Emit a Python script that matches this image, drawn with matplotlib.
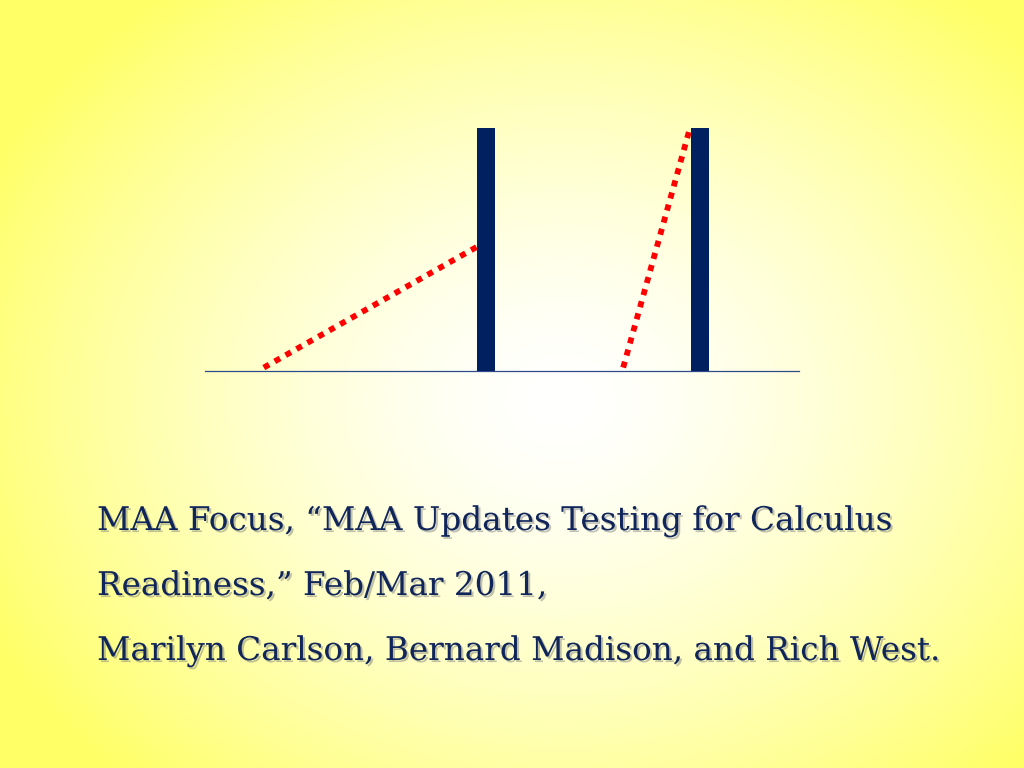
import numpy as np
import matplotlib
matplotlib.use("Agg")
import matplotlib.pyplot as plt
import matplotlib.patheffects as pe

# ---- data ----
bar_positions = [47.3, 83.3]
bar_heights = [1.0, 1.0]
line1_x = [9.9, 46.0]
line1_y = [0.012, 0.512]
line2_x = [70.4, 81.5]
line2_y = [0.012, 0.985]
caption_lines = [
    "MAA Focus, \u201cMAA Updates Testing for Calculus",
    "Readiness,\u201d Feb/Mar 2011,",
    "Marilyn Carlson, Bernard Madison, and Rich West.",
]

W, H = 1024, 768
fig = plt.figure(figsize=(W / 100, H / 100), dpi=100)

# background radial gradient
bg = fig.add_axes([0, 0, 1, 1], zorder=0)
yy, xx = np.mgrid[0:H, 0:W]
cx, cy, rx, ry = 560, 400, 640, 520
r = np.sqrt(((xx - cx) / rx) ** 2 + ((yy - cy) / ry) ** 2)
t = np.clip(r, 0, 1) ** 1.5
white = np.array([1.0, 1.0, 1.0])
yellow = np.array([1.0, 1.0, 0.40])
img = white[None, None, :] * (1 - t[..., None]) + yellow[None, None, :] * t[..., None]
bg.imshow(img, extent=[0, W, H, 0], aspect="auto", interpolation="bilinear")
bg.set_xlim(0, W)
bg.set_ylim(H, 0)
bg.axis("off")

# chart axes
left, right = 205, 799
base, top = 370.5, 127.5
ax = fig.add_axes([left / W, (H - base) / H, (right - left) / W, (base - top) / H], zorder=1)
ax.patch.set_alpha(0)
ax.set_xlim(0, 100)
ax.set_ylim(0, 1)
ax.bar(bar_positions, bar_heights, width=2.93, color="#002060", zorder=3)
dash = (0, (1.05, 1.1))
ax.plot(line1_x, line1_y, color="#FF0000", lw=4.2, linestyle=dash,
        dash_capstyle="butt", zorder=2)
ax.plot(line2_x, line2_y, color="#FF0000", lw=4.2, linestyle=dash,
        dash_capstyle="butt", zorder=2)
for s in ["top", "right", "left"]:
    ax.spines[s].set_visible(False)
ax.spines["bottom"].set_color("#2E4A8A")
ax.spines["bottom"].set_linewidth(0.9)
ax.set_xticks([])
ax.set_yticks([])

# caption text
shadow = [pe.SimplePatchShadow(offset=(1.5, -1.5), shadow_rgbFace="#777777", alpha=0.45), pe.Normal()]
baselines = [530, 595, 660]
for txt, yb in zip(caption_lines, baselines):
    fig.text(97 / W, (H - yb) / H, txt, ha="left", va="baseline",
             fontsize=23.5, family=["DejaVu Serif"],
             color="#10255A", path_effects=shadow, zorder=5)

fig.savefig("out.png", dpi=100)
